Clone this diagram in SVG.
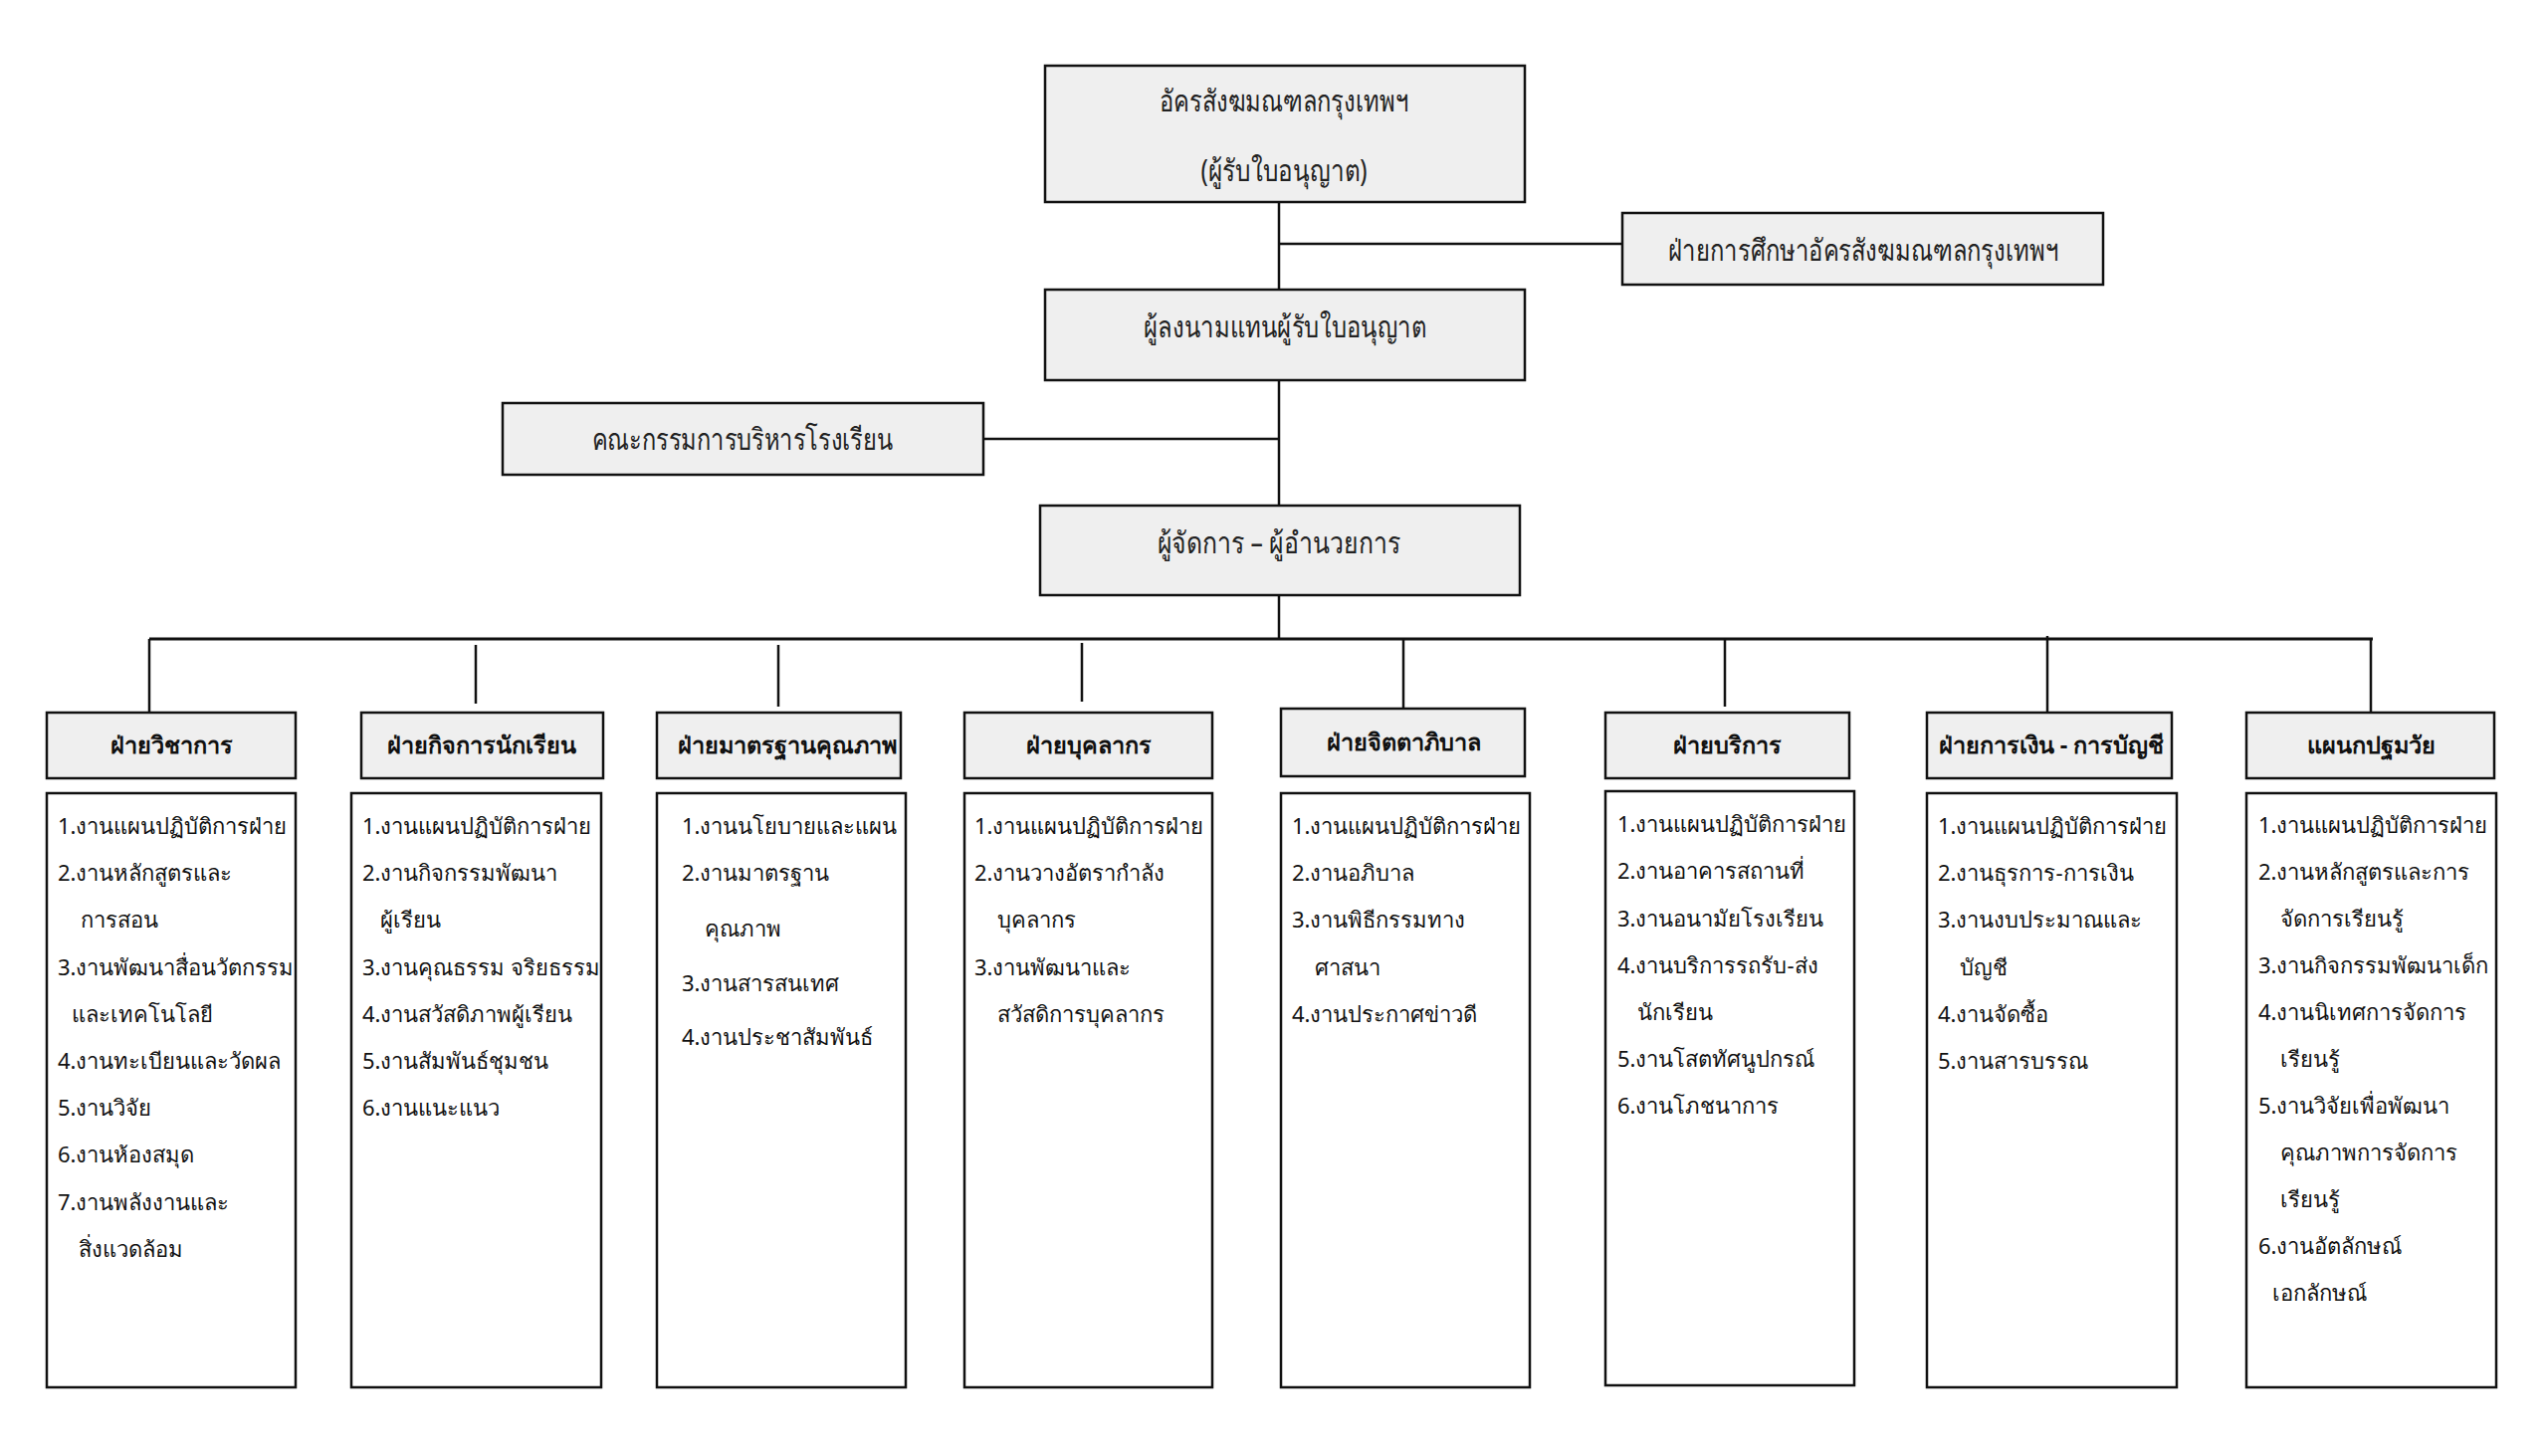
<svg xmlns="http://www.w3.org/2000/svg" width="2560" height="1463" viewBox="0 0 2560 1463">
<style>
.bg{fill:#ffffff}
.box{fill:#efefef;stroke:#111;stroke-width:2.5}
.lst{fill:#ffffff;stroke:#111;stroke-width:2.5}
.conn line{stroke:#111;stroke-width:2.5;fill:none}
.top{font-family:"Noto Sans","DejaVu Sans",sans-serif;font-size:30px;fill:#222;text-anchor:middle}
.hd{font-family:"Noto Sans","DejaVu Sans",sans-serif;font-size:23.5px;font-weight:bold;fill:#111;text-anchor:middle}
.li{font-family:"Noto Sans","DejaVu Sans",sans-serif;font-size:22px;fill:#111}
</style>
<rect class="bg" x="0" y="0" width="2560" height="1463"/>
<g id="connectors" class="conn">
<line x1="1285" y1="203" x2="1285" y2="291"/>
<line x1="1285" y1="245" x2="1630" y2="245"/>
<line x1="1285" y1="382" x2="1285" y2="508"/>
<line x1="988" y1="441" x2="1285" y2="441"/>
<line x1="1285" y1="598" x2="1285" y2="642"/>
<line x1="150" y1="642" x2="2384" y2="642" style="stroke-width:3"/>
<line x1="150" y1="642" x2="150" y2="716"/>
<line x1="478" y1="648" x2="478" y2="707"/>
<line x1="782" y1="648" x2="782" y2="710"/>
<line x1="1087" y1="646" x2="1087" y2="705"/>
<line x1="1410" y1="642" x2="1410" y2="712"/>
<line x1="1733" y1="642" x2="1733" y2="710"/>
<line x1="2057" y1="639" x2="2057" y2="716"/>
<line x1="2382" y1="642" x2="2382" y2="716"/>
</g>
<g id="n-licensee">
<rect class="box" x="1050" y="66" width="482" height="137"/>
<text class="top" x="1290" y="112" textLength="250" lengthAdjust="spacingAndGlyphs">อัครสังฆมณฑลกรุงเทพฯ</text>
<text class="top" x="1290" y="182" textLength="167" lengthAdjust="spacingAndGlyphs">(ผู้รับใบอนุญาต)</text>
</g>
<g id="n-education">
<rect class="box" x="1630" y="214" width="483" height="72"/>
<text class="top" x="1872" y="262" textLength="392" lengthAdjust="spacingAndGlyphs">ฝ่ายการศึกษาอัครสังฆมณฑลกรุงเทพฯ</text>
</g>
<g id="n-signer">
<rect class="box" x="1050" y="291" width="482" height="91"/>
<text class="top" x="1291" y="339" textLength="284" lengthAdjust="spacingAndGlyphs">ผู้ลงนามแทนผู้รับใบอนุญาต</text>
</g>
<g id="n-committee">
<rect class="box" x="505" y="405" width="483" height="72"/>
<text class="top" x="746" y="452" textLength="303" lengthAdjust="spacingAndGlyphs">คณะกรรมการบริหารโรงเรียน</text>
</g>
<g id="n-manager">
<rect class="box" x="1045" y="508" width="482" height="90"/>
<text class="top" x="1285" y="556" textLength="245" lengthAdjust="spacingAndGlyphs">ผู้จัดการ – ผู้อำนวยการ</text>
</g>
<g id="n-academic">
<rect class="box" x="47" y="716" width="250" height="66"/>
<text class="hd" x="172" y="757">ฝ่ายวิชาการ</text>
<rect class="lst" x="47" y="797" width="250" height="597"/>
<text class="li" x="58" y="838">1.งานแผนปฏิบัติการฝ่าย</text>
<text class="li" x="58" y="885">2.งานหลักสูตรและ</text>
<text class="li" x="81" y="932">การสอน</text>
<text class="li" x="58" y="980">3.งานพัฒนาสื่อนวัตกรรม</text>
<text class="li" x="72" y="1027">และเทคโนโลยี</text>
<text class="li" x="58" y="1074">4.งานทะเบียนและวัดผล</text>
<text class="li" x="58" y="1121">5.งานวิจัย</text>
<text class="li" x="58" y="1168">6.งานห้องสมุด</text>
<text class="li" x="58" y="1216">7.งานพลังงานและ</text>
<text class="li" x="79" y="1263">สิ่งแวดล้อม</text>
</g>
<g id="n-student">
<rect class="box" x="363" y="716" width="243" height="66"/>
<text class="hd" x="484" y="757">ฝ่ายกิจการนักเรียน</text>
<rect class="lst" x="353" y="797" width="251" height="597"/>
<text class="li" x="364" y="838">1.งานแผนปฏิบัติการฝ่าย</text>
<text class="li" x="364" y="885">2.งานกิจกรรมพัฒนา</text>
<text class="li" x="382" y="932">ผู้เรียน</text>
<text class="li" x="364" y="980">3.งานคุณธรรม จริยธรรม</text>
<text class="li" x="364" y="1027">4.งานสวัสดิภาพผู้เรียน</text>
<text class="li" x="364" y="1074">5.งานสัมพันธ์ชุมชน</text>
<text class="li" x="364" y="1121">6.งานแนะแนว</text>
</g>
<g id="n-quality">
<rect class="box" x="660" y="716" width="245" height="66"/>
<text class="hd" x="791" y="757">ฝ่ายมาตรฐานคุณภาพ</text>
<rect class="lst" x="660" y="797" width="250" height="597"/>
<text class="li" x="685" y="838">1.งานนโยบายและแผน</text>
<text class="li" x="685" y="885">2.งานมาตรฐาน</text>
<text class="li" x="708" y="941">คุณภาพ</text>
<text class="li" x="685" y="996">3.งานสารสนเทศ</text>
<text class="li" x="685" y="1050">4.งานประชาสัมพันธ์</text>
</g>
<g id="n-personnel">
<rect class="box" x="969" y="716" width="249" height="66"/>
<text class="hd" x="1094" y="757">ฝ่ายบุคลากร</text>
<rect class="lst" x="969" y="797" width="249" height="597"/>
<text class="li" x="979" y="838">1.งานแผนปฏิบัติการฝ่าย</text>
<text class="li" x="979" y="885">2.งานวางอัตรากำลัง</text>
<text class="li" x="1002" y="932">บุคลากร</text>
<text class="li" x="979" y="980">3.งานพัฒนาและ</text>
<text class="li" x="1002" y="1027">สวัสดิการบุคลากร</text>
</g>
<g id="n-pastoral">
<rect class="box" x="1287" y="712" width="245" height="68"/>
<text class="hd" x="1410" y="754">ฝ่ายจิตตาภิบาล</text>
<rect class="lst" x="1287" y="797" width="250" height="597"/>
<text class="li" x="1298" y="838">1.งานแผนปฏิบัติการฝ่าย</text>
<text class="li" x="1298" y="885">2.งานอภิบาล</text>
<text class="li" x="1298" y="932">3.งานพิธีกรรมทาง</text>
<text class="li" x="1321" y="980">ศาสนา</text>
<text class="li" x="1298" y="1027">4.งานประกาศข่าวดี</text>
</g>
<g id="n-service">
<rect class="box" x="1613" y="716" width="245" height="66"/>
<text class="hd" x="1735" y="757">ฝ่ายบริการ</text>
<rect class="lst" x="1613" y="795" width="250" height="597"/>
<text class="li" x="1625" y="836">1.งานแผนปฏิบัติการฝ่าย</text>
<text class="li" x="1625" y="883">2.งานอาคารสถานที่</text>
<text class="li" x="1625" y="931">3.งานอนามัยโรงเรียน</text>
<text class="li" x="1625" y="978">4.งานบริการรถรับ-ส่ง</text>
<text class="li" x="1645" y="1025">นักเรียน</text>
<text class="li" x="1625" y="1072">5.งานโสตทัศนูปกรณ์</text>
<text class="li" x="1625" y="1119">6.งานโภชนาการ</text>
</g>
<g id="n-finance">
<rect class="box" x="1936" y="716" width="246" height="66"/>
<text class="hd" x="2061" y="757">ฝ่ายการเงิน - การบัญชี</text>
<rect class="lst" x="1936" y="797" width="251" height="597"/>
<text class="li" x="1947" y="838">1.งานแผนปฏิบัติการฝ่าย</text>
<text class="li" x="1947" y="885">2.งานธุรการ-การเงิน</text>
<text class="li" x="1947" y="932">3.งานงบประมาณและ</text>
<text class="li" x="1969" y="980">บัญชี</text>
<text class="li" x="1947" y="1027">4.งานจัดซื้อ</text>
<text class="li" x="1947" y="1074">5.งานสารบรรณ</text>
</g>
<g id="n-kindergarten">
<rect class="box" x="2257" y="716" width="249" height="66"/>
<text class="hd" x="2382" y="757">แผนกปฐมวัย</text>
<rect class="lst" x="2257" y="797" width="251" height="597"/>
<text class="li" x="2269" y="837">1.งานแผนปฏิบัติการฝ่าย</text>
<text class="li" x="2269" y="884">2.งานหลักสูตรและการ</text>
<text class="li" x="2291" y="931">จัดการเรียนรู้</text>
<text class="li" x="2269" y="978">3.งานกิจกรรมพัฒนาเด็ก</text>
<text class="li" x="2269" y="1025">4.งานนิเทศการจัดการ</text>
<text class="li" x="2291" y="1072">เรียนรู้</text>
<text class="li" x="2269" y="1119">5.งานวิจัยเพื่อพัฒนา</text>
<text class="li" x="2291" y="1166">คุณภาพการจัดการ</text>
<text class="li" x="2291" y="1213">เรียนรู้</text>
<text class="li" x="2269" y="1260">6.งานอัตลักษณ์</text>
<text class="li" x="2283" y="1307">เอกลักษณ์</text>
</g>
</svg>
